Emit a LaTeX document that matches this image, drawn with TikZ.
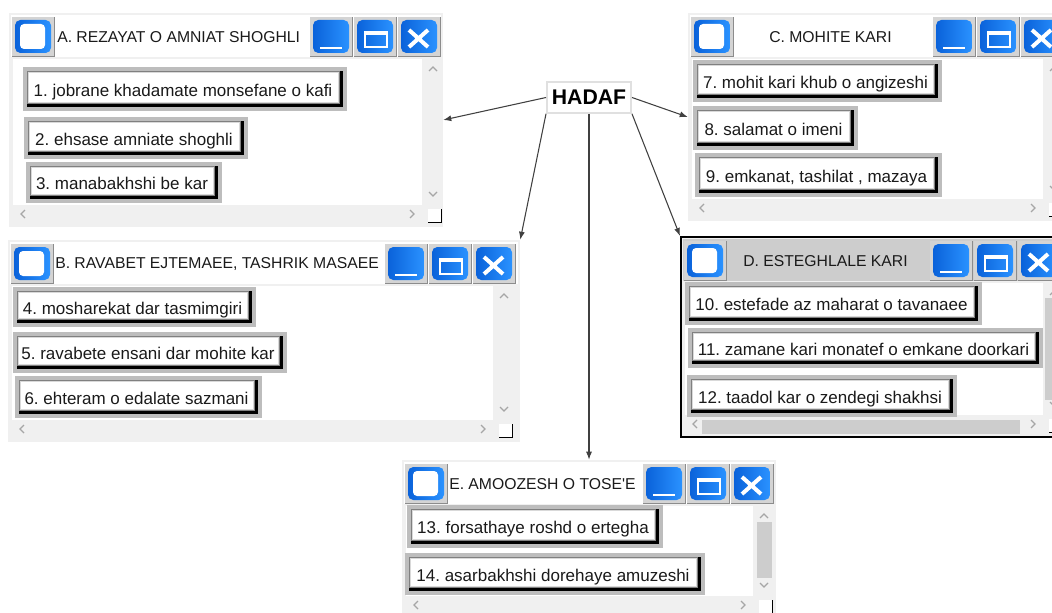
\documentclass[tikz,border=0pt]{standalone}
\usepackage{fontspec}
\setmainfont{Liberation Sans}
\usepackage{xcolor}
\usepackage{tikz}
\usetikzlibrary{calc, positioning, arrows.meta, fit}

\definecolor{winbg}{HTML}{F0F0F0}
\definecolor{btnedge}{HTML}{D4D4D4}
\definecolor{btnblue}{HTML}{0A62DA}
\definecolor{btnlight}{HTML}{2A92FF}
\definecolor{chevgray}{HTML}{A6A6A6}
\definecolor{thumbgray}{HTML}{CDCDCD}
\definecolor{itemframe}{HTML}{BDBDBD}
\definecolor{textdark}{HTML}{1A1A1A}

\tikzset{
	line width = .75pt,
	winframe/.style={
		fill=winbg,
		draw=none,
		inner sep=0pt
	},
	titlebar/.style={fill=white},
	wintitle/.style={
		anchor=west,
		inner sep=0pt,
		text=textdark,
		font=\fontsize{11.8}{14}\selectfont
	},
	btnface/.style={
		rounded corners=4pt,
		left color=btnblue,
		right color=btnlight
	},
	chev/.style={
		draw=chevgray,
		line width=.9pt
	},
	itembtn/.style={
		fill=white,
		draw=black!15,
		line width=.5pt,
		inner sep=0pt,
		text height=14pt,
		text depth=0pt,
		text=textdark,
		font=\fontsize{12.75}{15}\selectfont
	},
	goal/.style={
		draw=black!12,
		line width=1.5pt,
		fill=white,
		inner sep=0pt,
		minimum width=63pt,
		minimum height=23pt,
		font=\bfseries\fontsize{15.9}{18}\selectfont
	},
	link/.style={
		draw=black!75,
		line width=.8pt,
		-{Latex[length=6pt, width=4.5pt]}
	}
}

% one bevelled blue title button at (x,y)
\newcommand{\winbtn}[2]{%
	\fill[btnedge] ({#1},{#2}) rectangle ++(42,39);
	\draw[black!45] ({#1},{#2+39}) -- ++(42,0) -- ++(0,-39);
	\shade[btnface] ({#1+3},{#2+3}) rectangle ++(36,33);
}

% name, x1, y1, x2, y2, x of minimize button, title, x of title, right of content
\newcommand{\appwindow}[9]{%
	\node[winframe, fit={(#2,#3) (#4,#5)}] (#1) {};
	\fill[titlebar] ({#2+2},{#3+2}) rectangle ({#4-2},{#3+44});
	\fill[white] ({#2+4},{#3+46}) rectangle ({#9},{#5-22});
	% icon
	\winbtn{#2+3}{#3+4}
	\fill[white, rounded corners=3pt] ({#2+11},{#3+11}) rectangle ++(25,25);
	% minimize, maximize, close
	\winbtn{#6}{#3+4}
	\draw[white, line width=1.5pt] ({#6+10},{#3+35}) -- ++(22,0);
	\winbtn{#6+44}{#3+4}
	\draw[white, line width=1.5pt] ({#6+55},{#3+19}) rectangle ++(22,15);
	\draw[white, line width=2.5pt] ({#6+55},{#3+20}) -- ++(22,0);
	\winbtn{#6+88}{#3+4}
	\draw[white, line width=3pt] ({#6+99},{#3+17}) -- ++(19,17) ({#6+99},{#3+34}) -- ++(19,-17);
	\node[wintitle] at (#8,{#3+24}) (#1t) {#7};
	% scroll arrows and grip
	\draw[chev] ({#9+7},{#3+58}) -- ++(4,-4) -- ++(4,4);
	\draw[chev] ({#9+7},{#5-35}) -- ++(4,4) -- ++(4,-4);
	\draw[chev] ({#2+16},{#5-17}) -- ++(-4,4) -- ++(4,4);
	\draw[chev] ({#9-12},{#5-17}) -- ++(4,4) -- ++(-4,4);
	\fill[white] ({#9+6},{#5-18}) rectangle ++(13,13);
	\draw[black] ({#9+6},{#5-5}) -- ++(13,0) -- ++(0,-13);
}

% name, x1, y1, x2, y2, text
\newcommand{\itembox}[6]{%
	\fill[itemframe] (#2,#3) rectangle (#4,#5);
	\fill[black] ({#2+4},{#3+4}) rectangle ({#4-4},{#5-4});
	\fill[black!50] ({#2+4},{#3+4}) rectangle ({#4-7},{#5-7});
	\node[itembtn, minimum width={(#4-#2-14)*.75pt}, minimum height={(#5-#3-14)*.75pt}]
		at ({(#2+#4-4)/2},{(#3+#5-4)/2}) (#1) {#6};
}

\begin{document}
\frenchspacing
\begin{tikzpicture}[x=.75pt, y=-.75pt]
	\clip (0,0) rectangle (1052,613);

	\appwindow{winA}{9}{13}{443}{227}{310}{A. REZAYAT O AMNIAT SHOGHLI}{57}{422}
	\itembox{it1}{23}{67}{347}{111}{1. jobrane khadamate monsefane o kafi}
	\itembox{it2}{24}{117}{248}{159}{2. ehsase amniate shoghli}
	\itembox{it3}{26}{162}{222}{203}{3. manabakhshi be kar}

	\appwindow{winB}{8}{240}{520}{442}{385}{B. RAVABET EJTEMAEE, TASHRIK MASAEE}{55}{493}
	\itembox{it4}{13}{287}{256}{327}{4. mosharekat dar tasmimgiri}
	\itembox{it5}{13}{332}{287}{373}{5. ravabete ensani dar mohite kar}
	\itembox{it6}{15}{376}{262}{418}{6. ehteram o edalate sazmani}

	\appwindow{winC}{688}{13}{1070}{221}{933}{C. MOHITE KARI}{769}{1043}
	\itembox{it7}{693}{60}{942}{102}{7. mohit kari khub o angizeshi}
	\itembox{it8}{693}{106}{858}{150}{8. salamat o imeni}
	\itembox{it9}{695}{153}{942}{197}{9. emkanat, tashilat , mazaya}

	% the active window
	\begin{scope}[winframe/.append style={draw=black, line width=1.5pt}, titlebar/.style={fill=thumbgray}]
		\appwindow{winD}{681}{237}{1070}{437}{930}{D. ESTEGHLALE KARI}{743}{1043}
	\end{scope}
	\fill[thumbgray] (1045,298) rectangle (1070,400);
	\fill[thumbgray] (702,420) rectangle (1020,434);
	\itembox{it10}{685}{282}{982}{325}{10. estefade az maharat o tavanaee}
	\itembox{it11}{688}{328}{1043}{368}{11. zamane kari monatef o emkane doorkari}
	\itembox{it12}{687}{375}{957}{417}{12. taadol kar o zendegi shakhsi}

	\appwindow{winE}{402}{460}{776}{618}{643}{E. AMOOZESH O TOSE\textquotesingle E}{449}{753}
	\fill[thumbgray] (757,522) rectangle (772,578);
	\itembox{it13}{407}{505}{663}{548}{13. forsathaye roshd o ertegha}
	\itembox{it14}{405}{553}{705}{595}{14. asarbakhshi dorehaye amuzeshi}

	\node[goal] at (589,97.5) (hadaf) {HADAF};
	\draw[link] (hadaf.west) -- (winA.east);
	\draw[link] (hadaf.east) -- (winC.west);
	\draw[link] (hadaf.south west) -- (winB.north east);
	\draw[link] (hadaf.south east) -- (winD.north west);
	\draw[link] (hadaf.south) -- (hadaf.south |- winE.north);
\end{tikzpicture}
\end{document}
